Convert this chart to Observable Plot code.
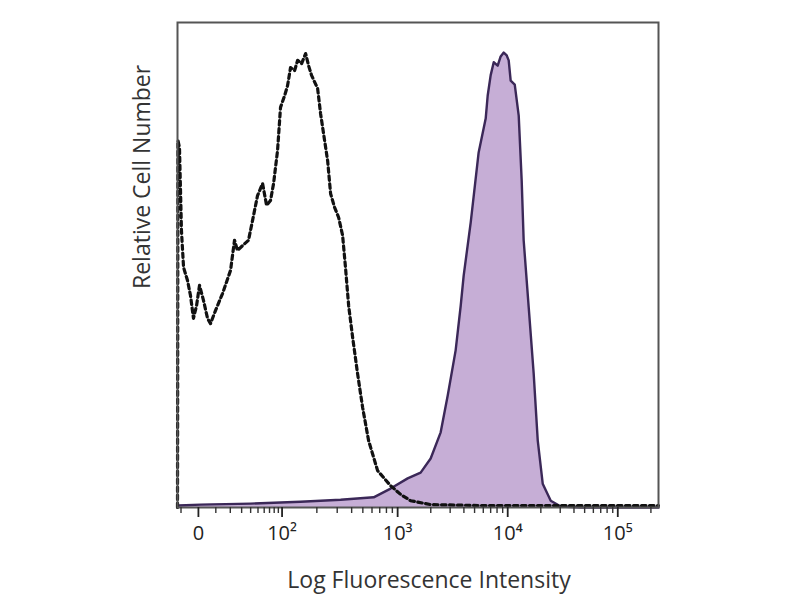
<!DOCTYPE html>
<html>
<head>
<meta charset="utf-8">
<script src="https://cdn.jsdelivr.net/npm/d3@7"></script>
<script src="https://cdn.jsdelivr.net/npm/@observablehq/plot@0.6"></script>
<style>
  html, body { margin: 0; padding: 0; background: #fff; overflow: hidden; }
  svg { display: block; }
</style>
</head>
<body>
<div id="chart"></div>
<script>
// Position along the x axis is expressed in display "decades" (10^4 -> 4, 10^5 -> 5),
// with the low end compressed as in a biexponential cytometry axis.
function pos(v) {
  if (v >= 1000) return Math.log10(v);
  if (v >= 100) return 1.95 + (Math.log10(v) - 2) * 1.05;
  const c = 20;
  return 1.19 + 0.76 * Math.asinh(v / c) / Math.asinh(100 / c);
}

// Stained sample (filled purple histogram): x position, relative count
const stainedX = [1.009, 1.209, 1.664, 2.118, 2.482, 2.782, 2.936, 3.091, 3.209, 3.300, 3.391, 3.455, 3.527, 3.573, 3.600, 3.664, 3.736, 3.800, 3.818, 3.845, 3.873, 3.909, 3.936, 3.964, 3.991, 4.009, 4.027, 4.064, 4.100, 4.127, 4.145, 4.191, 4.236, 4.273, 4.318, 4.391, 4.482, 4.664, 5.370];
const stainedY = [0.4, 0.6, 0.8, 1.2, 1.6, 2.1, 3.9, 6.0, 7.2, 10.1, 15.5, 23.1, 32.4, 41.6, 47.8, 58.8, 73.2, 80.2, 84.9, 89.1, 91.8, 91.1, 93.0, 93.8, 93.2, 92.2, 88.0, 87.2, 80.8, 67.4, 55.1, 41.2, 27.6, 13.8, 4.9, 1.4, 0.2, 0.0, 0.0];

// Isotype control (dashed histogram)
const controlX = [1.000, 1.004, 1.018, 1.036, 1.055, 1.091, 1.118, 1.145, 1.173, 1.200, 1.236, 1.273, 1.300, 1.345, 1.409, 1.482, 1.518, 1.545, 1.591, 1.645, 1.682, 1.727, 1.773, 1.809, 1.845, 1.873, 1.909, 1.936, 1.973, 2.000, 2.027, 2.064, 2.091, 2.127, 2.164, 2.191, 2.218, 2.273, 2.300, 2.327, 2.364, 2.391, 2.427, 2.464, 2.500, 2.527, 2.555, 2.591, 2.636, 2.682, 2.736, 2.818, 2.936, 3.027, 3.118, 3.300, 3.755, 4.482, 5.370];
const controlY = [0.0, 75.7, 74.2, 57.1, 49.5, 46.8, 43.7, 39.0, 41.6, 45.8, 42.7, 39.0, 37.9, 40.6, 44.1, 48.9, 55.1, 53.0, 54.0, 55.1, 59.2, 64.3, 66.8, 62.3, 63.3, 66.8, 73.6, 82.5, 84.9, 87.0, 90.7, 90.1, 92.2, 91.5, 93.6, 91.1, 89.1, 86.4, 81.2, 77.1, 71.5, 64.7, 61.9, 59.8, 56.1, 49.3, 41.6, 35.1, 27.6, 20.6, 13.8, 7.6, 4.5, 2.7, 1.4, 0.6, 0.4, 0.4, 0.4];

// Axis ticks
const majorValues = [0, 100, 1000, 10000, 100000];
const majorLabels = ["0", "10²", "10³", "10⁴", "10⁵"];
const minorValues = [-10, 10, 20, 30, 40, 50, 60, 70, 80, 90,
  200, 300, 400, 500, 600, 700, 800, 900,
  2000, 3000, 4000, 5000, 6000, 7000, 8000, 9000,
  20000, 30000, 40000, 50000, 60000, 70000, 80000, 90000, 200000];

const xLabel = "Log Fluorescence Intensity";
const yLabel = "Relative Cell Number";

const stained = stainedX.map((x, i) => ({x, y: stainedY[i]}));
const control = controlX.map((x, i) => ({x, y: controlY[i]}));
const majorTicks = majorValues.map(pos);
const minorTicks = minorValues.map(pos).filter(p => p > 1.0 && p < 5.37);

const font = "'Open Sans', 'DejaVu Sans', sans-serif";

const chart = Plot.plot({
  width: 800,
  height: 600,
  marginLeft: 177,
  marginRight: 142,
  marginTop: 22,
  marginBottom: 93,
  style: {fontFamily: font, color: "#222", background: "#fff"},
  x: {domain: [1.0, 5.37], axis: null},
  y: {domain: [0, 100], axis: null},
  marks: [
    Plot.areaY(stained, {x: "x", y: "y", fill: "#c6aed6", curve: "linear"}),
    Plot.line(stained, {x: "x", y: "y", stroke: "#3b2858", strokeWidth: 2.4, curve: "linear"}),
    Plot.line(control, {x: "x", y: "y", stroke: "#111", strokeWidth: 3.2, strokeDasharray: "4.5,3.5", curve: "linear"}),
    Plot.frame({stroke: "#555", strokeWidth: 2}),
    Plot.axisX({ticks: minorTicks, tickSize: 6, tickFormat: () => "", stroke: "#333", strokeWidth: 1.4, label: null}),
    Plot.axisX({ticks: majorTicks, tickSize: 10, tickPadding: 8, strokeWidth: 1.8,
      tickFormat: (d, i) => majorLabels[i], fontSize: 20, fill: "#222", label: null}),
    Plot.text([xLabel], {text: d => d, frameAnchor: "bottom", dy: 73, dx: 11, fontSize: 23, fill: "#333", lineAnchor: "middle"}),
    Plot.text([yLabel], {text: d => d, frameAnchor: "left", dx: -35, dy: 24, rotate: -90, fontSize: 23, fill: "#333", lineAnchor: "middle"})
  ]
});

document.getElementById("chart").appendChild(chart);
</script>
</body>
</html>
